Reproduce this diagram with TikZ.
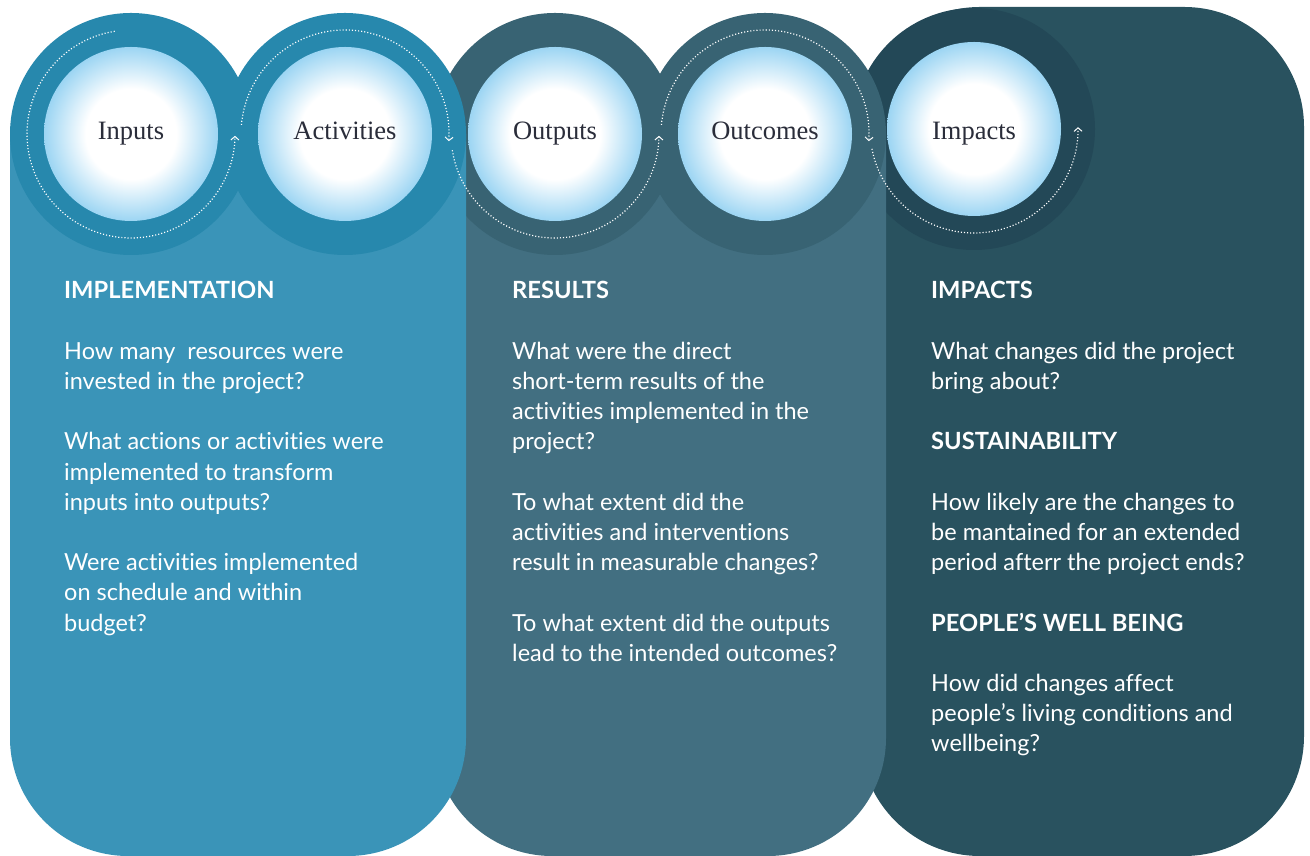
\documentclass[tikz,border=0pt]{standalone}
\usepackage{fontspec}
\setmainfont{Liberation Serif}
\newfontfamily\bodyfont[Ligatures={NoCommon,NoRequired,NoContextual}]{Lato}
\usetikzlibrary{arrows.meta}
\definecolor{panelA}{HTML}{3A94B8}
\definecolor{ringA}{HTML}{2788AD}
\definecolor{panelB}{HTML}{426F81}
\definecolor{ringB}{HTML}{386373}
\definecolor{panelC}{HTML}{29525F}
\definecolor{ringC}{HTML}{234857}
\definecolor{bulbblue}{HTML}{9CD5F3}
\definecolor{labelc}{HTML}{2A2D3A}
\pgfdeclareradialshading{bulb}{\pgfpoint{0bp}{0bp}}{color(0bp)=(white); color(13bp)=(white); color(25bp)=(bulbblue); color(50bp)=(bulbblue)}
\begin{document}
\begin{tikzpicture}[x=1pt,y=1pt,
  ring/.style={circle, minimum size=242pt, inner sep=0pt, draw=none},
  bulbnode/.style={circle, minimum size=174pt, inner sep=0pt, shading=bulb, text=labelc, text height=17pt, text depth=6pt, font=\fontsize{26.5}{30}\selectfont},
  flow/.style={white, line width=1.2pt, dash pattern=on 1.1pt off 2pt, -{Straight Barb[length=3.5pt,width=8pt,line width=1pt]}},
  head/.style={anchor=base west, inner sep=0pt, text=white, font=\bodyfont\bfseries\fontsize{23.7}{30.2}\selectfont},
  para/.style={anchor=base west, inner sep=0pt, text=white, align=left, font=\bodyfont\fontsize{23.5}{30.2}\selectfont}
]
\useasboundingbox (0,0) rectangle (1310,856);
% panel C
\fill[panelC, rounded corners=120pt] (860,0) rectangle (1304,849);
\node[ring, fill=ringC] (impring) at (974,727) {};
% panel B
\fill[panelB, rounded corners=118pt] (434,722) -- (434,0) -- (886,0) -- (886,722);
\node[ring, fill=ringB] (outpring) at (555,722) {};
\node[ring, fill=ringB] (outcring) at (765,722) {};
% panel A
\fill[panelA, rounded corners=118pt] (10,722) -- (10,0) -- (466,0) -- (466,722);
\node[ring, fill=ringA] (inpring) at (131,722) {};
\node[ring, fill=ringA] (actring) at (345,722) {};
% bulbs
\node[bulbnode] (inputs) at (inpring.center) {Inputs};
\node[bulbnode] (activities) at (actring.center) {Activities};
\node[bulbnode] (outputs) at (outpring.center) {Outputs};
\node[bulbnode] (outcomes) at (outcring.center) {Outcomes};
\node[bulbnode, text height=21pt, text depth=0pt] (impacts) at (impring.center) {Impacts};
% flow arcs
\draw[flow] ([shift={(99:104pt)}]inputs.center) arc[start angle=99, end angle=359, radius=104pt];
\draw[flow] ([shift={(175:104pt)}]activities.center) arc[start angle=175, end angle=-4, radius=104pt];
\draw[flow] ([shift={(189:104pt)}]outputs.center) arc[start angle=189, end angle=359, radius=104pt];
\draw[flow] ([shift={(175:104pt)}]outcomes.center) arc[start angle=175, end angle=-4, radius=104pt];
\draw[flow] ([shift={(191:104pt)}]impacts.center) arc[start angle=191, end angle=361, radius=104pt];
% column 1 (multi-line nodes: base = last line)
\node[head] (implhead) at (64,557) {IMPLEMENTATION};
\node[para] (q11) at (64,466.4) {How many\ \ resources were\\invested in the project?};
\node[para] (q12) at (64,345.6) {What actions or activities were\\implemented to transform\\inputs into outputs?};
\node[para] (q13) at (64,224.8) {Were activities implemented\\on schedule and within\\budget?};
% column 2
\node[head] (reshead) at (512,557) {RESULTS};
\node[para] (q21) at (512,406) {What were the direct\\short-term results of the\\activities implemented in the\\project?};
\node[para] (q22) at (512,285.2) {To what extent did the\\activities and interventions\\result in measurable changes?};
\node[para] (q23) at (512,194.6) {To what extent did the outputs\\lead to the intended outcomes?};
% column 3
\node[head] (imphead) at (931,557) {IMPACTS};
\node[para] (q31) at (931,466.4) {What changes did the project\\bring about?};
\node[head] (sushead) at (931,406) {SUSTAINABILITY};
\node[para] (q32) at (931,285.2) {How likely are the changes to\\be mantained for an extended\\period afterr the project ends?};
\node[head] (pplhead) at (931,224.8) {PEOPLE’S WELL BEING};
\node[para] (q33) at (931,104) {How did changes affect\\people’s living conditions and\\wellbeing?};
\end{tikzpicture}
\end{document}
